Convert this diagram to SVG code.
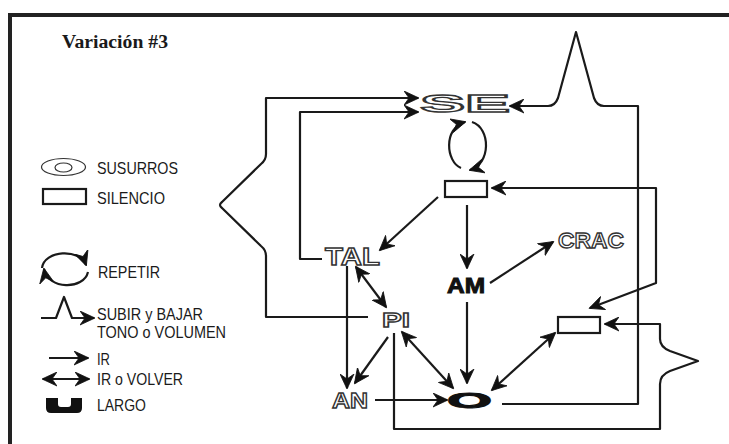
<svg xmlns="http://www.w3.org/2000/svg" width="729" height="444" viewBox="0 0 729 444">
<style>
.ln{fill:none;stroke:#1a1a1a;stroke-width:2.2;stroke-linejoin:round}
.lg{font-family:"Liberation Sans",Arial,sans-serif;font-size:16.5px;fill:#1a1a1a}
.ol{font-family:"Liberation Sans",Arial,sans-serif;font-weight:bold;fill:#fff;stroke:#333;stroke-width:1.3}
.bk{font-family:"Liberation Sans",Arial,sans-serif;font-weight:bold;fill:#111;stroke:#111;stroke-width:1}
.box{fill:#fff;stroke:#1a1a1a;stroke-width:2.2}
</style>
<defs>
<marker id="ah" markerUnits="userSpaceOnUse" markerWidth="16" markerHeight="15" refX="14" refY="7.5" orient="auto-start-reverse" viewBox="0 0 16 15">
<path d="M0,0.5 L15,7.5 L0,14.5 L5,7.5 Z" fill="#111" stroke="#111" stroke-width="0.8" stroke-linejoin="round"/>
</marker>
</defs>
<rect width="729" height="444" fill="#fff"/>
<g id="frame">
<line x1="8" y1="15" x2="729" y2="15" stroke="#222" stroke-width="4"/>
<line x1="10" y1="13" x2="10" y2="444" stroke="#222" stroke-width="4"/>
</g>
<text x="62" y="48" font-family="'Liberation Serif',serif" font-weight="bold" font-size="18" textLength="106" lengthAdjust="spacingAndGlyphs" fill="#1a1a1a">Variación #3</text>
<g id="legend">
<ellipse cx="63.5" cy="167" rx="22" ry="8.5" fill="none" stroke="#333" stroke-width="1.2"/>
<ellipse cx="63.5" cy="167.5" rx="8.5" ry="4.5" fill="none" stroke="#333" stroke-width="1.2"/>
<text class="lg" x="97" y="174" textLength="81" lengthAdjust="spacingAndGlyphs">SUSURROS</text>
<rect class="box" x="43" y="189" width="43" height="15"/>
<text class="lg" x="97" y="204" textLength="68" lengthAdjust="spacingAndGlyphs">SILENCIO</text>
<path class="ln" d="M42,268 C44,250 80,248 86,265" marker-end="url(#ah)"/>
<path class="ln" d="M88,272 C84,290 48,290 44,269" marker-end="url(#ah)"/>
<text class="lg" x="98" y="278" textLength="62" lengthAdjust="spacingAndGlyphs">REPETIR</text>
<path class="ln" d="M41,318 H56 L64,297 L72,318 H94" marker-end="url(#ah)"/>
<text class="lg" x="97" y="320" textLength="106" lengthAdjust="spacingAndGlyphs">SUBIR y BAJAR</text>
<text class="lg" x="97" y="338" textLength="129" lengthAdjust="spacingAndGlyphs">TONO o VOLUMEN</text>
<path class="ln" d="M49,358 H88" marker-end="url(#ah)"/>
<text class="lg" x="97" y="365" textLength="13" lengthAdjust="spacingAndGlyphs">IR</text>
<path class="ln" d="M43,379 H89" marker-start="url(#ah)" marker-end="url(#ah)"/>
<text class="lg" x="97" y="385" textLength="86" lengthAdjust="spacingAndGlyphs">IR o VOLVER</text>
<path d="M46,398 H58 V404 Q58,407 61,407 H68 Q71,407 71,404 V398 H82 V408 Q82,413 77,413 H51 Q46,413 46,408 Z" fill="#111"/>
<text class="lg" x="97" y="411" textLength="49" lengthAdjust="spacingAndGlyphs">LARGO</text>
</g>
<g id="connectors">
<path class="ln" d="M368,317 H266 V256 Q266,250 261,246 L222,208 Q218,205 222,202 L261,164 Q266,160 266,154 V98 H418" marker-end="url(#ah)"/>
<path class="ln" d="M322,259 H300 V112 H418" marker-end="url(#ah)"/>
<path class="ln" d="M502,404 H638 V106 H604 Q597,106 594,98 L576,32 L558,98 Q555,106 548,106 H510" marker-end="url(#ah)"/>
<path class="ln" d="M461,168 C446,162 443,128 465,122" marker-end="url(#ah)"/>
<path class="ln" d="M472,122 C491,128 491,164 470,170" marker-end="url(#ah)"/>
<path class="ln" d="M492,188 H656 V283 L590,308" marker-start="url(#ah)" marker-end="url(#ah)"/>
<path class="ln" d="M394,333 V429 H660 V384 Q660,375 670,371 L698,361 L670,351 Q660,347 660,339 V324 H605" marker-end="url(#ah)"/>
<path class="ln" d="M438,197 L380,250" marker-end="url(#ah)"/>
<path class="ln" d="M467,205 V268" marker-end="url(#ah)"/>
<path class="ln" d="M490,283 L553,242" marker-end="url(#ah)"/>
<path class="ln" d="M467,302 V383" marker-end="url(#ah)"/>
<path class="ln" d="M356,267 L386,307" marker-start="url(#ah)" marker-end="url(#ah)"/>
<path class="ln" d="M347,266 V388" marker-end="url(#ah)"/>
<path class="ln" d="M388,337 L355,383" marker-end="url(#ah)"/>
<path class="ln" d="M402,332 L453,388" marker-start="url(#ah)" marker-end="url(#ah)"/>
<path class="ln" d="M375,400 H447" marker-end="url(#ah)"/>
<path class="ln" d="M492,390 L555,333" marker-start="url(#ah)" marker-end="url(#ah)"/>
</g>
<g id="node-SE"><text class="ol" x="420" y="112" font-size="24" textLength="90" lengthAdjust="spacingAndGlyphs">SE</text></g>
<g id="node-silencio1"><rect class="box" x="445" y="181" width="42" height="16"/></g>
<g id="node-TAL"><text class="ol" x="325" y="265" font-size="23" textLength="55" lengthAdjust="spacingAndGlyphs">TAL</text></g>
<g id="node-AM"><text class="bk" x="447" y="293" font-size="22" textLength="38" lengthAdjust="spacingAndGlyphs">AM</text></g>
<g id="node-CRAC"><text class="ol" x="558" y="248" font-size="22" textLength="66" lengthAdjust="spacingAndGlyphs">CRAC</text></g>
<g id="node-PI"><text class="ol" x="382" y="327" font-size="21" textLength="28" lengthAdjust="spacingAndGlyphs">PI</text></g>
<g id="node-silencio2"><rect class="box" x="558" y="317" width="42" height="16"/></g>
<g id="node-AN"><text class="ol" x="332" y="408" font-size="22" textLength="36" lengthAdjust="spacingAndGlyphs">AN</text></g>
<g id="node-O"><text class="bk" x="447" y="408" font-size="22" stroke-width="2" textLength="45" lengthAdjust="spacingAndGlyphs">O</text></g>
</svg>
